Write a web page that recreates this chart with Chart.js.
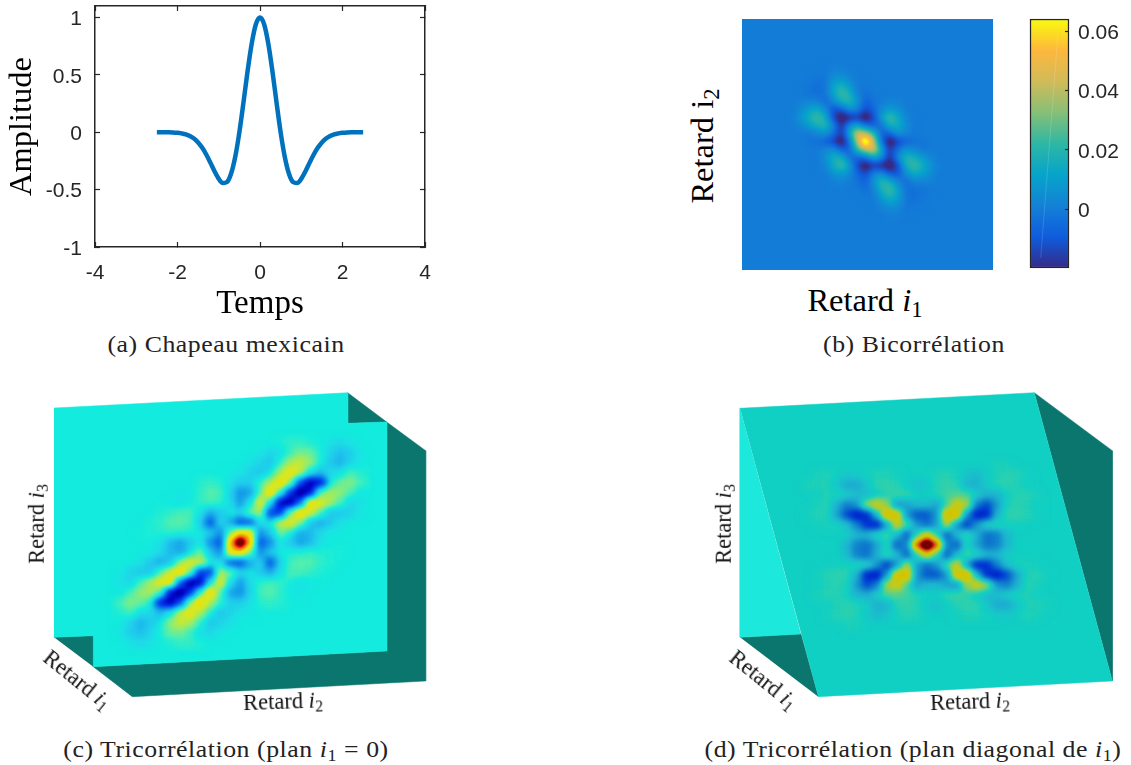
<!DOCTYPE html>
<html>
<head>
<meta charset="utf-8">
<title>Bicorrélation et tricorrélation</title>
<script src="https://cdn.jsdelivr.net/npm/chart.js@4"></script>
<style>
  html, body { margin: 0; background: #fff; }
  #page { position: relative; width: 1131px; height: 765px; overflow: hidden; }
  canvas { position: absolute; }
  .txt { position: absolute; white-space: nowrap; color: #000; font-family: "Liberation Serif", serif; transform: translate(-50%, -50%); line-height: 1; }
  .txt sub { font-size: 0.7em; vertical-align: baseline; position: relative; top: 0.25em; line-height: 0; }
  .cap { font-size: 23px; letter-spacing: 0.5px; color: #222; transform: translate(-50%, -50%) scaleX(1.12); }
  .lab { font-size: 22.5px; color: #111; }
  .big { font-size: 32.5px; }
</style>
</head>
<body>
<div id="page">
  <canvas id="hatChart" width="440" height="324" style="left:0;top:0"></canvas>
  <canvas id="bicorrChart" width="251" height="251" style="left:742px;top:19px"></canvas>
  <canvas id="barChart" width="131" height="290" style="left:1000px;top:0"></canvas>
  <canvas id="tricorrCChart" width="440" height="340" style="left:0;top:380px"></canvas>
  <canvas id="tricorrDChart" width="441" height="340" style="left:690px;top:380px"></canvas>

  <div class="txt cap" style="left:226px;top:344px">(a) Chapeau mexicain</div>
  <div class="txt cap" style="left:914px;top:344px">(b) Bicorrélation</div>
  <div class="txt cap" style="left:226px;top:749px">(c) Tricorrélation (plan <i>i</i><sub>1</sub> = 0)</div>
  <div class="txt cap" style="left:913px;top:749px">(d) Tricorrélation (plan diagonal de <i>i</i><sub>1</sub>)</div>

  <div class="txt big" style="left:865px;top:300px">Retard <i>i</i><sub>1</sub></div>
  <div class="txt big" style="left:702px;top:146px;transform:translate(-50%,-50%) rotate(-90deg)">Retard i<sub>2</sub></div>

  <div class="txt lab" style="left:37px;top:524px;transform:translate(-50%,-50%) rotate(-90deg)">Retard <i>i</i><sub>3</sub></div>
  <div class="txt lab" style="left:77px;top:680px;transform:translate(-50%,-50%) rotate(39deg)">Retard <i>i</i><sub>1</sub></div>
  <div class="txt lab" style="left:283px;top:702px;transform:translate(-50%,-50%) rotate(-2deg)">Retard <i>i</i><sub>2</sub></div>

  <div class="txt lab" style="left:724px;top:524px;transform:translate(-50%,-50%) rotate(-90deg)">Retard <i>i</i><sub>3</sub></div>
  <div class="txt lab" style="left:763px;top:680px;transform:translate(-50%,-50%) rotate(39deg)">Retard <i>i</i><sub>1</sub></div>
  <div class="txt lab" style="left:970px;top:702px;transform:translate(-50%,-50%) rotate(-2deg)">Retard <i>i</i><sub>2</sub></div>
</div>

<script>
// (a) mexican hat
const hatTimes = [-2.5,-2.4,-2.3,-2.2,-2.1,-2,-1.9,-1.8,-1.7,-1.6,-1.5,-1.4,-1.3,-1.2,-1.1,-1,-0.9,-0.8,-0.7,-0.6,-0.5,-0.4,-0.3,-0.2,-0.1,0,0.1,0.2,0.3,0.4,0.5,0.6,0.7,0.8,0.9,1,1.1,1.2,1.3,1.4,1.5,1.6,1.7,1.8,1.9,2,2.1,2.2,2.3,2.4,2.5];
const hatValues = [0,0,0,-0.001,-0.003,-0.005,-0.01,-0.018,-0.033,-0.055,-0.089,-0.136,-0.196,-0.267,-0.342,-0.406,-0.443,-0.434,-0.36,-0.214,0,0.261,0.535,0.775,0.941,1,0.941,0.775,0.535,0.261,0,-0.214,-0.36,-0.434,-0.443,-0.406,-0.342,-0.267,-0.196,-0.136,-0.089,-0.055,-0.033,-0.018,-0.01,-0.005,-0.003,-0.001,0,0,0];
const timeTicks = [-4,-2,0,2,4];
const amplitudeTicks = [-1,-0.5,0,0.5,1];

// (b) bicorrelation in thousandths, lags in 8px cells around the peak
const bicorrLags = [-9,-8,-7,-6,-5,-4,-3,-2,-1,0,1,2,3,4,5,6,7,8,9];
const bicorrValues = [
  [0,0,0,0,-1,1,1,0,0,0,0,0,0,0,0,0,0,0,0],
  [0,0,-1,-2,-2,5,7,2,-1,0,0,0,0,0,0,0,0,0,0],
  [0,0,-2,-4,-2,12,17,9,-1,-1,0,0,0,0,0,0,0,0,0],
  [0,-1,-3,-4,-3,12,26,17,1,-4,-1,0,0,0,0,0,0,0,0],
  [0,1,2,1,-5,3,16,21,6,-8,-3,0,2,1,0,0,0,0,0],
  [0,5,12,14,4,-12,-10,5,2,-14,-6,4,10,6,0,0,0,0,0],
  [1,8,17,26,15,-14,-28,-22,-18,-28,-14,10,26,15,3,-1,0,0,0],
  [0,3,10,17,20,2,-20,5,12,-4,-8,-4,16,17,5,-1,0,0,0],
  [0,0,-2,3,6,-4,-18,12,48,40,22,-8,-8,6,3,-1,0,0,0],
  [0,0,-2,-4,-8,-16,-28,-4,40,85,40,-4,-28,-16,-8,-4,-2,0,0],
  [0,0,0,-1,3,6,-8,-8,22,40,48,12,-18,-4,6,3,-2,0,0],
  [0,0,0,-1,5,17,16,-4,-8,-4,12,5,-20,2,20,17,10,3,0],
  [0,0,0,-1,3,15,26,10,-14,-28,-18,-22,-28,-14,15,26,17,8,1],
  [0,0,0,0,0,6,10,4,-6,-14,2,5,-10,-12,4,14,12,5,0],
  [0,0,0,0,0,1,2,0,-3,-8,6,21,16,3,-5,1,2,1,0],
  [0,0,0,0,0,0,0,0,-1,-4,1,17,26,12,-3,-4,-3,-1,0],
  [0,0,0,0,0,0,0,0,0,-1,-1,9,17,12,-2,-4,-2,0,0],
  [0,0,0,0,0,0,0,0,0,0,-1,2,7,5,-2,-2,-1,0,0],
  [0,0,0,0,0,0,0,0,0,0,0,0,1,1,-1,0,0,0,0]
];
const colorbarTicks = [0,0.02,0.04,0.06];

// (c) tricorrelation plane i1 = 0, percent of the peak, lags in 10px cells
const planeCLagsX = [-12,-11,-10,-9,-8,-7,-6,-5,-4,-3,-2,-1,0,1,2,3,4,5,6,7,8,9,10,11,12];
const planeCLagsY = [-10,-9,-8,-7,-6,-5,-4,-3,-2,-1,0,1,2,3,4,5,6,7,8,9,10];
const planeCValues = [
  [0,0,0,0,0,0,0,0,0,0,0,0,0,0,0,0,2,5,5,2,0,-5,-8,-4,0],
  [0,0,0,0,0,0,0,0,0,0,0,0,0,0,-3,-8,-6,6,16,14,2,-10,-18,-12,-3],
  [0,0,0,0,0,0,0,0,0,0,0,0,0,-5,-10,-16,5,25,32,20,0,-15,-22,-10,-2],
  [0,0,0,0,0,0,0,0,0,0,0,-2,-4,-10,-16,0,25,45,30,-5,-20,-8,-5,8,3],
  [0,0,0,0,0,0,0,0,3,5,3,-5,-12,-12,5,25,55,20,-55,-90,-75,0,14,18,8],
  [0,0,0,0,0,0,-3,-2,5,12,8,-10,-35,-28,12,55,5,-65,-100,-80,10,25,20,8,-3],
  [0,0,0,0,0,-2,-4,0,5,8,5,-8,-30,-5,40,-5,-85,-95,-45,50,40,25,8,-8,-5],
  [0,0,0,0,2,5,8,8,-5,-25,-15,0,-10,15,25,-60,-65,15,55,35,10,-15,-15,-10,-3],
  [0,0,0,2,5,10,12,8,-12,-55,-10,-25,-55,-50,-5,0,30,40,20,-15,-25,-15,-5,0,0],
  [0,0,1,2,3,5,3,2,0,-15,-35,15,50,45,-35,-15,15,0,-25,-20,-8,-2,0,0,0],
  [0,0,0,0,-5,-20,-28,-15,-3,-35,-55,60,130,60,-55,-35,-3,-15,-28,-20,-5,0,0,0,0],
  [0,0,0,-2,-8,-20,-25,0,15,-15,-35,45,50,15,-35,-15,0,2,3,5,3,2,1,0,0],
  [0,0,-5,-15,-25,-15,20,40,30,0,-5,-50,-55,-25,-10,-55,-12,8,12,10,5,2,0,0,0],
  [-3,-10,-15,-15,10,35,55,15,-65,-60,25,15,-10,0,-15,-25,-5,8,8,5,2,0,0,0,0],
  [-5,-8,8,25,40,50,-45,-95,-85,-5,40,-5,-30,-8,5,8,5,0,-4,-2,0,0,0,0,0],
  [-3,8,20,25,10,-80,-100,-65,5,55,12,-28,-35,-10,8,12,5,-2,-3,0,0,0,0,0,0],
  [8,18,14,0,-75,-90,-55,20,55,25,5,-12,-12,-5,3,5,3,0,0,0,0,0,0,0,0],
  [3,8,-5,-8,-20,-5,30,45,25,0,-16,-10,-4,-2,0,0,0,0,0,0,0,0,0,0,0],
  [-2,-10,-22,-15,0,20,32,25,5,-16,-10,-5,0,0,0,0,0,0,0,0,0,0,0,0,0],
  [-3,-12,-18,-10,2,14,16,6,-6,-8,-3,0,0,0,0,0,0,0,0,0,0,0,0,0,0],
  [0,-4,-8,-5,0,2,5,5,2,0,0,0,0,0,0,0,0,0,0,0,0,0,0,0,0]
];

// (d) tricorrelation diagonal plane, same units
const planeDLagsX = [-13,-12,-11,-10,-9,-8,-7,-6,-5,-4,-3,-2,-1,0,1,2,3,4,5,6,7,8,9,10,11,12,13];
const planeDLagsY = [-8,-7,-6,-5,-4,-3,-2,-1,0,1,2,3,4,5,6,7,8];
const planeDValues = [
  [0,0,0,0,0,0,0,0,0,0,0,0,0,0,0,0,0,0,0,0,2,2,0,0,0,0,0],
  [0,0,2,3,0,-4,-3,1,3,3,1,0,0,0,3,4,2,-6,-10,-3,3,5,4,1,0,0,0],
  [0,2,3,3,-5,-18,-18,-5,5,6,4,-2,-7,-4,4,6,4,-12,-15,-3,4,5,3,1,0,0,0],
  [0,0,1,3,3,-3,-8,-10,-2,4,8,6,0,0,3,8,12,10,-3,-15,-12,0,4,4,2,0,0],
  [0,0,2,4,-15,-35,-25,25,45,25,-25,-20,-10,-10,-20,10,45,30,-35,-55,-25,2,5,3,1,0,0],
  [0,1,4,3,-20,-55,-75,-65,-10,60,55,-25,-50,-50,-25,60,55,-25,-75,-70,-15,5,6,4,1,0,0],
  [0,0,1,2,2,-8,-35,-65,-70,-20,40,10,-25,-40,-20,30,-25,-60,-25,2,3,2,1,0,0,0,0],
  [0,0,0,0,0,-2,-12,-12,3,8,-10,-45,5,45,5,-45,-10,8,-15,-40,-35,-10,0,0,0,0,0],
  [0,0,0,0,0,-12,-35,-40,-20,3,-45,-30,80,140,80,-30,-45,3,-20,-40,-35,-12,0,0,0,0,0],
  [0,0,0,0,0,-10,-35,-40,-15,8,-10,-45,5,45,5,-45,-10,8,3,-12,-12,-2,0,0,0,0,0],
  [0,0,0,0,1,2,3,2,-25,-60,-25,30,-20,-40,-25,10,40,-20,-70,-65,-35,-8,2,2,1,0,0],
  [0,0,1,4,6,5,-15,-70,-75,-25,55,60,-25,-50,-50,-25,55,60,-10,-65,-75,-55,-20,3,4,1,0],
  [0,0,1,3,5,2,-25,-55,-35,30,45,10,-20,-10,-10,-20,-25,25,45,25,-25,-35,-15,4,2,0,0],
  [0,0,2,4,4,0,-12,-15,-3,10,12,8,3,0,0,6,8,4,-2,-10,-8,-3,3,3,1,0,0],
  [0,0,0,1,3,5,4,-3,-15,-12,4,6,4,-4,-7,-2,4,6,5,-5,-18,-18,-5,3,3,2,0],
  [0,0,0,1,4,5,3,-3,-10,-6,2,4,3,0,0,0,1,3,3,1,-3,-4,0,3,2,0,0],
  [0,0,0,0,0,2,2,0,0,0,0,0,0,0,0,0,0,0,0,0,0,0,0,0,0,0,0]
];

// cube faces behind the planes, in page pixels
const faceCFront = [[54,408],[347.7,392.7],[347.7,423.3],[386.7,422],[386.7,651],[93.3,666.7],[93.3,635.7],[54,637.3]];
const faceCTopNotch = [[347.7,392.7],[386.7,422],[347.7,423.3]];
const faceCRight = [[386.7,422],[425.7,450.7],[425.7,681],[132.3,696.7],[93.3,666.7],[386.7,651]];
const faceCBottomNotch = [[54,637.3],[93.3,635.7],[93.3,666.7]];
const faceDFront = [[740,408.3],[1034.3,392.7],[1112.3,681],[818.3,696.7]];
const faceDLeft = [[740,408.3],[740,637.3],[801,634]];
const faceDBottom = [[740,637.3],[801,634],[818.3,696.7]];
const faceDRight = [[1034.3,392.7],[1112.3,450.7],[1112.3,681]];

const INK = "#262626";
const TEAL_DARK = "#0B766E";
const parulaColors = ["#352a87","#0f5cdd","#1481d6","#06a4ca","#2eb7a4","#87bf77","#d1bb59","#fdb83c","#f9fb0e"];
const barMin = -0.0199, barMax = 0.0642;

// jet as it looks in the pictures: value -> colour
const jetStops = [
  [-100,[0,0,128]],[-85,[0,0,192]],[-60,[0,64,240]],[-35,[16,144,232]],[-15,[32,200,236]],[-5,[28,224,228]],
  [0,[18,235,221]],[10,[80,238,176]],[20,[144,236,112]],[35,[216,232,32]],[50,[240,224,0]],[60,[240,176,16]],
  [75,[240,112,16]],[88,[224,16,16]],[100,[128,0,0]]
];
const hexToRgb = h => [1,3,5].map(i => parseInt(h.slice(i, i + 2), 16));
const parulaStops = parulaColors.map((c, i) => [(barMin + (barMax - barMin) * i / 8) * 1000, hexToRgb(c)]);

function buildLut(stops, lo, hi, shade) {
  const lut = [];
  for (let g = 0; g < 256; g++) {
    const v = lo + (hi - lo) * g / 255;
    let j = 0;
    while (j < stops.length - 2 && v > stops[j + 1][0]) j++;
    const a = stops[j], b = stops[j + 1];
    const t = Math.min(1, Math.max(0, (v - a[0]) / (b[0] - a[0])));
    lut.push(a[1].map((c, n) => (c + (b[1][n] - c) * t) * shade));
  }
  return lut;
}

// heat cells are drawn as gray levels offscreen, blurred, then mapped through the colormap
const heatPlugin = {
  id: "heat",
  beforeDatasetDraw(chart, args, opts) {
    if (!opts.lut || args.index !== opts.index) return;
    const { width, height, ctx } = chart;
    const raw = document.createElement("canvas");
    raw.width = width; raw.height = height;
    const rawCtx = raw.getContext("2d");
    args.meta.data.forEach(p => p.draw(rawCtx, chart.chartArea));
    const soft = document.createElement("canvas");
    soft.width = width; soft.height = height;
    const softCtx = soft.getContext("2d", { willReadFrequently: true });
    softCtx.filter = `blur(${opts.blur}px)`;
    softCtx.drawImage(raw, 0, 0);
    const img = softCtx.getImageData(0, 0, width, height);
    for (let i = 0; i < img.data.length; i += 4) {
      if (!img.data[i + 3]) continue;
      const rgb = opts.lut[img.data[i]];
      img.data[i] = rgb[0]; img.data[i + 1] = rgb[1]; img.data[i + 2] = rgb[2];
    }
    softCtx.putImageData(img, 0, 0);
    ctx.save();
    if (opts.background) { ctx.fillStyle = opts.background; ctx.fillRect(0, 0, width, height); }
    ctx.drawImage(soft, 0, 0);
    ctx.restore();
    return false;
  }
};
Chart.register(heatPlugin);

function heatDataset(matrix, lagsX, lagsY, lo, hi, cellPx) {
  const data = [], colors = [];
  matrix.forEach((row, l) => row.forEach((v, k) => {
    if (v === 0) return; // flat background stays the plane's own colour
    const g = Math.round(255 * (v - lo) / (hi - lo));
    data.push({ x: lagsX[k], y: lagsY[l] });
    colors.push(`rgb(${g},${g},${g})`);
  }));
  return {
    data, type: "scatter", order: 0, xAxisID: "lagX", yAxisID: "lagY",
    pointStyle: "rect", pointRadius: (cellPx + 1) / Math.SQRT2, pointBorderWidth: 0,
    pointBackgroundColor: colors, showLine: false, clip: false
  };
}

function faceDataset(corners, color, order) {
  return {
    data: corners.map(c => ({ x: c[0], y: c[1] })), type: "scatter", showLine: true, fill: "shape",
    backgroundColor: color, borderColor: color, borderWidth: 0.5, pointRadius: 0, tension: 0, order
  };
}

const baseOptions = {
  responsive: false, animation: false, devicePixelRatio: 1, events: [],
  layout: { padding: 0, autoPadding: false },
  plugins: { legend: { display: false }, tooltip: { enabled: false }, title: { display: false } }
};
const hiddenAxis = (min, max, reverse) => ({ type: "linear", display: false, min, max, reverse: !!reverse });
const setTicks = list => scale => { scale.ticks = list.map(value => ({ value })); };
const noLabelPadding = s => { s.paddingTop = s.paddingBottom = s.paddingLeft = s.paddingRight = 0; };

// --- (a)
const tickFont = { family: '"Liberation Sans", sans-serif', size: 21 };
function boxAxis(position, ticks, min, max, size) {
  const horizontal = position === "top" || position === "bottom";
  return {
    type: "linear", position, min, max,
    afterBuildTicks: setTicks(ticks),
    afterFit: s => { if (horizontal) s.height = size; else s.width = size; noLabelPadding(s); },
    border: { color: INK, width: 1.5 },
    grid: { drawOnChartArea: false, drawTicks: true, tickLength: -5, tickWidth: 1.2, tickColor: INK },
    ticks: { display: false }
  };
}
const hatX = boxAxis("bottom", timeTicks, -4, 4, 77);
hatX.ticks = { display: true, color: INK, font: tickFont, padding: 19, autoSkip: false, maxRotation: 0, callback: v => String(v) };
hatX.title = { display: true, text: "Temps", color: "#000", font: { family: '"Liberation Serif", serif', size: 33 }, padding: { top: 0, bottom: 0 } };
const hatY = boxAxis("left", amplitudeTicks, -1, 1.1, 95);
hatY.ticks = { display: true, color: INK, font: tickFont, padding: 18, labelOffset: 2, autoSkip: false, callback: v => String(v) };
hatY.title = { display: true, text: "Amplitude", color: "#000", font: { family: '"Liberation Serif", serif', size: 32.5 }, padding: { top: 3, bottom: 0 } };

new Chart(document.getElementById("hatChart"), {
  type: "scatter",
  data: {
    datasets: [{
      data: hatTimes.map((t, i) => ({ x: t, y: hatValues[i] })), showLine: true, borderColor: "#0072BD", borderWidth: 4.5,
      pointRadius: 0, cubicInterpolationMode: "monotone", borderCapStyle: "butt"
    }]
  },
  options: {
    ...baseOptions,
    scales: { x: hatX, y: hatY, xTop: boxAxis("top", timeTicks, -4, 4, 6), yRight: boxAxis("right", amplitudeTicks, -1, 1.1, 15) }
  }
});

// --- (b)
const bicorrLo = -40, bicorrHi = 90;
const bicorrLut = buildLut(parulaStops, bicorrLo, bicorrHi, 1);
const bicorrZero = bicorrLut[Math.round(255 * (0 - bicorrLo) / (bicorrHi - bicorrLo))].map(Math.round);
new Chart(document.getElementById("bicorrChart"), {
  type: "scatter",
  data: { datasets: [heatDataset(bicorrValues, bicorrLags, bicorrLags, bicorrLo, bicorrHi, 8)] },
  options: {
    ...baseOptions,
    plugins: { ...baseOptions.plugins, heat: { index: 0, lut: bicorrLut, blur: 3.5, background: `rgb(${bicorrZero.join(",")})` } },
    scales: { lagX: hiddenAxis(-124 / 8, 127 / 8), lagY: hiddenAxis(-123 / 8, 128 / 8, true) }
  }
});

// colour bar: one floating bar painted with the colormap along the value axis
new Chart(document.getElementById("barChart"), {
  data: {
    datasets: [{
      type: "bar", data: [{ x: 0.5, y: [barMin, barMax] }], barThickness: 39, clip: false,
      borderColor: INK, borderWidth: 1.5, borderSkipped: false, order: 2,
      backgroundColor: ctx => {
        const { chart } = ctx;
        if (!chart.chartArea) return parulaColors[0];
        const y = chart.scales.y;
        const grad = chart.ctx.createLinearGradient(0, y.getPixelForValue(barMin), 0, y.getPixelForValue(barMax));
        parulaColors.forEach((c, i) => grad.addColorStop(i / 8, c));
        return grad;
      }
    }, {
      type: "line", data: [{ x: 0.05, y: -0.0165 }, { x: 0.93, y: 0.0588 }],
      borderColor: "rgba(255,255,255,0.14)", borderWidth: 1, pointRadius: 0, order: 1
    }]
  },
  options: {
    ...baseOptions,
    layout: { padding: { left: 30, top: 19, bottom: 22 }, autoPadding: false },
    scales: {
      x: { type: "linear", display: false, min: 0, max: 1 },
      y: {
        type: "linear", position: "right", min: barMin, max: barMax,
        afterBuildTicks: setTicks(colorbarTicks),
        afterFit: s => { s.width = 62; noLabelPadding(s); },
        border: { display: false },
        grid: { drawOnChartArea: false, drawTicks: true, tickLength: -4, tickWidth: 1.2, tickColor: INK, z: 1 },
        ticks: { color: INK, font: tickFont, padding: 13, labelOffset: 2, autoSkip: false, callback: v => String(v) }
      }
    }
  }
});

// --- (c) and (d): frame axes are page pixels, lag axes sit on the plane's centre
const jetLo = -130, jetHi = 150;
new Chart(document.getElementById("tricorrCChart"), {
  type: "scatter",
  data: {
    datasets: [
      heatDataset(planeCValues, planeCLagsX, planeCLagsY, jetLo, jetHi, 10),
      faceDataset(faceCFront, "#12EBDD", 1),
      faceDataset(faceCTopNotch, TEAL_DARK, 2),
      faceDataset(faceCRight, TEAL_DARK, 2),
      faceDataset(faceCBottomNotch, TEAL_DARK, 2)
    ]
  },
  options: {
    ...baseOptions,
    plugins: { ...baseOptions.plugins, heat: { index: 0, lut: buildLut(jetStops, jetLo, jetHi, 1), blur: 3.5 } },
    scales: {
      x: hiddenAxis(0, 440), y: hiddenAxis(380, 720, true),
      lagX: hiddenAxis(-24.07, 19.93), lagY: hiddenAxis(-16.3, 17.7, true)
    }
  }
});

new Chart(document.getElementById("tricorrDChart"), {
  type: "scatter",
  data: {
    datasets: [
      heatDataset(planeDValues, planeDLagsX, planeDLagsY, jetLo, jetHi, 10),
      faceDataset(faceDFront, "#10CFC3", 1),
      faceDataset(faceDLeft, "#1CE8DC", 2),
      faceDataset(faceDBottom, TEAL_DARK, 2),
      faceDataset(faceDRight, TEAL_DARK, 2)
    ]
  },
  options: {
    ...baseOptions,
    plugins: { ...baseOptions.plugins, heat: { index: 0, lut: buildLut(jetStops, jetLo, jetHi, 0.88), blur: 3.5 } },
    scales: {
      x: hiddenAxis(690, 1131), y: hiddenAxis(380, 720, true),
      lagX: hiddenAxis(-23.73, 20.37), lagY: hiddenAxis(-16.53, 17.47, true)
    }
  }
});
</script>
</body>
</html>
